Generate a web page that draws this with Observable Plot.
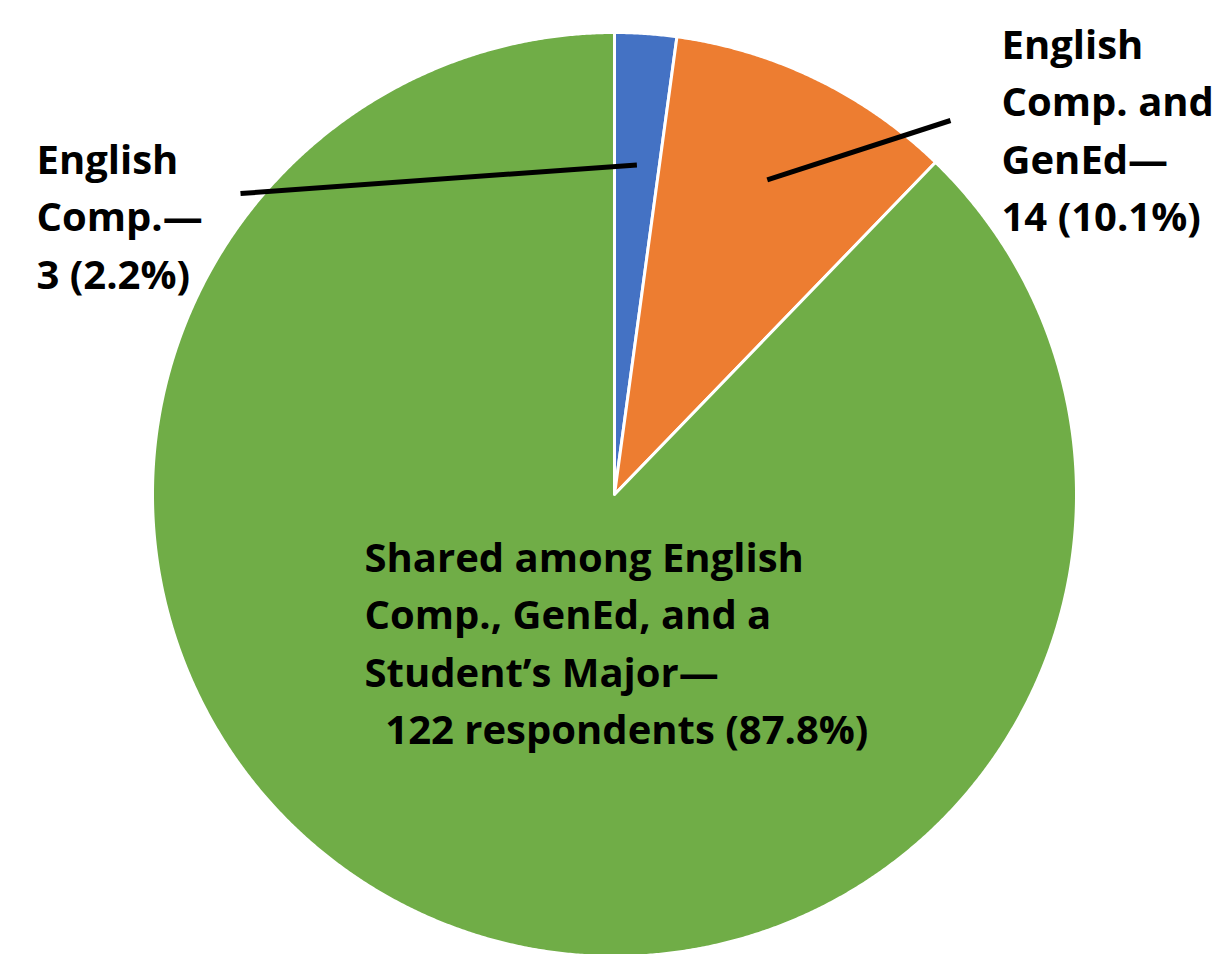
<!DOCTYPE html>
<html><head><meta charset="utf-8">
<script src="https://cdn.jsdelivr.net/npm/d3@7"></script>
<script src="https://cdn.jsdelivr.net/npm/@observablehq/plot@0.6"></script>
<style>body{margin:0;background:#fff}</style>
</head><body><div id="chart"></div>
<script>
// ---- data ----
const categories = ["English Comp.", "English Comp. and GenEd", "Shared among English Comp., GenEd, and a Student's Major"];
const counts = [3, 14, 122];
const percents = [2.2, 10.1, 87.8];
const labelTexts = [
  "English\nComp.—\n" + counts[0] + " (" + percents[0] + "%)",
  "English\nComp. and\nGenEd—\n" + counts[1] + " (" + percents[1] + "%)",
  "Shared among English\nComp., GenEd, and a\nStudent’s Major—\n\u00a0\u00a0" + counts[2] + " respondents (" + percents[2] + "%)"
];
const palette = ["#4472C4", "#ED7D31", "#70AD47"];

// ---- layout ----
const W = 1223, H = 954, CX = 614, CY = 494, R = 462;
const px = (x) => x - CX;      // pixel x -> data x
const py = (y) => CY - y;      // pixel y -> data y
const labelPos = [[36, 133], [1001, 18], [364, 531]];
const leaderStart = [[240, 193], [950, 120], null];
const leaderRadius = [0.715, 0.757, null];

const arcs = d3.pie().sort(null).value(d => d)(counts);
const pts = [];
arcs.forEach((a, i) => {
  const n = Math.max(4, Math.ceil((a.endAngle - a.startAngle) / (Math.PI / 720)));
  pts.push({cat: categories[i], x: 0, y: 0});
  for (let k = 0; k <= n; k++) {
    const t = a.startAngle + (a.endAngle - a.startAngle) * k / n;
    pts.push({cat: categories[i], x: R * Math.sin(t), y: R * Math.cos(t)});
  }
  pts.push({cat: categories[i], x: 0, y: 0});
});

const labels = categories.map((c, i) => ({cat: c, text: labelTexts[i], x: px(labelPos[i][0]), y: py(labelPos[i][1])}));
const leaders = [];
arcs.forEach((a, i) => {
  if (!leaderStart[i]) return;
  const m = (a.startAngle + a.endAngle) / 2;
  leaders.push({
    x1: px(leaderStart[i][0]), y1: py(leaderStart[i][1]),
    x2: leaderRadius[i] * R * Math.sin(m), y2: leaderRadius[i] * R * Math.cos(m)
  });
});

const chart = Plot.plot({
  width: W, height: H,
  margin: 0,
  x: {domain: [-CX, W - CX], axis: null},
  y: {domain: [CY - H, CY], axis: null},
  color: {domain: categories, range: palette},
  style: {background: "#fff"},
  marks: [
    Plot.line(pts, {x: "x", y: "y", z: "cat", fill: "cat", stroke: "#fff", strokeWidth: 3, curve: "linear"}),
    Plot.link(leaders, {x1: "x1", y1: "y1", x2: "x2", y2: "y2", stroke: "#000", strokeWidth: 5, strokeLinecap: "butt"}),
    Plot.text(labels, {x: "x", y: "y", text: "text", textAnchor: "start", lineAnchor: "top",
      lineHeight: 1.43, fontSize: 40, fontWeight: "bold", fontFamily: "Open Sans", fill: "#000"})
  ]
});
document.getElementById("chart").appendChild(chart);
</script>
</body></html>
